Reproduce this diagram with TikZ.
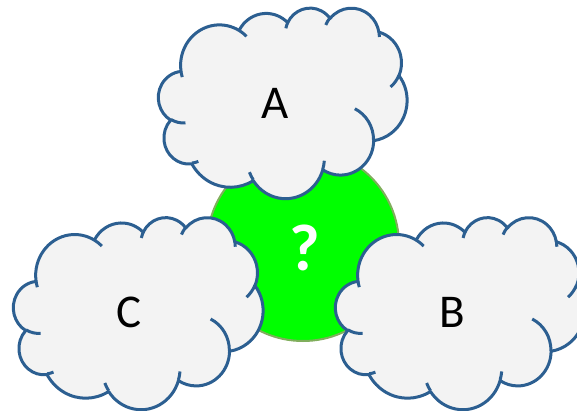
\documentclass[tikz,border=0pt]{standalone}
\usepackage{fontspec}
\setmainfont{Carlito}

\definecolor{cloudedge}{RGB}{44,95,145}
\definecolor{cloudfill}{RGB}{243,243,243}
\definecolor{discfill}{RGB}{0,255,0}
\definecolor{discedge}{RGB}{128,174,92}

\tikzset{
  cloudbody/.style={fill=cloudfill, draw=cloudedge, line width=3pt, line join=round},
  cloudfold/.style={draw=cloudedge, line width=3pt},
  disc/.style={fill=discfill, draw=discedge, line width=2pt},
  cloudlabel/.style={inner sep=0pt, font=\fontsize{47}{56}\selectfont},
  disclabel/.style={inner sep=0pt, text=white, font=\fontsize{66}{79}\selectfont\bfseries},
}

% Cloud outline in a 43.2 x 43.2 frame. Each bump is an elliptic arc given by
% its radii and by the directions in which it starts and sweeps; the directions
% are turned into ellipse parameters and the arc is appended to \cloudbuf.
\newcommand\cloudarc[4]{%
  \pgfmathsetmacro\cloudta{atan2(#1*sin(#3),#2*cos(#3))}%
  \pgfmathsetmacro\cloudtb{atan2(#1*sin(#3+#4),#2*cos(#3+#4))}%
  \pgfmathsetmacro\cloudtd{\cloudtb-\cloudta}%
  \pgfmathsetmacro\cloudtd{\cloudtd<0 ? \cloudtd+360 : \cloudtd}%
  \xdef\cloudbuf{\cloudbuf arc[start angle=\cloudta,delta angle=\cloudtd,x radius=#1,y radius=#2]}%
}
\newcommand\cloudat[2]{\xdef\cloudbuf{\cloudbuf (#1,#2)}}

% \drawcloud{left}{top}{width}{height}
\newcommand\drawcloud[4]{%
  \pgfmathsetmacro\cloudux{#3/43.2}%
  \pgfmathsetmacro\clouduy{#4/43.2}%
  \begin{scope}[shift={(#1,#2)}]
  \begin{scope}[x=\cloudux pt, y=-\clouduy pt]
    % filled outline
    \gdef\cloudbuf{}%
    \cloudat{3.9}{14.37}%
    \cloudarc{6.753}{9.190}{-190.4875}{123.7805}%
    \cloudarc{5.333}{7.267}{-144.1024}{89.9452}%
    \cloudarc{4.365}{5.945}{-145.8079}{99.7230}%
    \cloudarc{4.857}{6.595}{-130.9861}{117.2417}%
    \cloudarc{5.333}{7.273}{-78.7089}{109.0269}%
    \cloudarc{6.775}{9.220}{-46.2673}{130.2690}%
    \cloudarc{5.785}{7.867}{0.6250}{114.0333}%
    \cloudarc{6.752}{9.215}{22.4516}{115.1726}%
    \cloudarc{7.720}{10.543}{66.2426}{75.7110}%
    \cloudarc{4.360}{5.918}{-274.9421}{146.7356}%
    \cloudarc{4.345}{5.945}{-246.8285}{152.5189}%
    \edef\cloudtmp{\noexpand\path[cloudbody] \cloudbuf -- cycle;}\cloudtmp
    % inner folds between the bumps
    \gdef\cloudbuf{}%
    \cloudat{4.693}{26.177}\cloudarc{4.345}{5.945}{86.7420}{26.4295}%
    \cloudat{6.928}{34.899}\cloudarc{4.360}{5.918}{73.6105}{11.4475}%
    \cloudat{16.478}{39.090}\cloudarc{6.752}{9.215}{137.6242}{14.0811}%
    \cloudat{28.827}{34.751}\cloudarc{6.752}{9.215}{6.4533}{15.9984}%
    \cloudat{34.129}{22.954}\cloudarc{5.785}{7.867}{-70.2924}{70.9174}%
    \cloudat{41.798}{15.354}\cloudarc{5.333}{7.273}{30.3180}{27.7515}%
    \cloudat{38.324}{5.426}\cloudarc{4.857}{6.595}{-13.7443}{14.8589}%
    \cloudat{29.078}{3.952}\cloudarc{4.857}{6.595}{-149.1815}{18.1954}%
    \cloudat{22.141}{4.720}\cloudarc{4.365}{5.945}{-163.4943}{17.6864}%
    \cloudat{14.000}{5.192}\cloudarc{6.753}{9.190}{-66.7070}{12.3194}%
    \cloudat{4.127}{15.789}\cloudarc{6.753}{9.190}{157.6544}{11.8582}%
    \edef\cloudtmp{\noexpand\path[cloudfold] \cloudbuf;}\cloudtmp
  \end{scope}
  \end{scope}}

\begin{document}
\begin{tikzpicture}[x=1pt, y=-1pt]
  \clip (0,0) rectangle (577,411);
  \draw[disc] (303,245) circle[radius=96];
  \drawcloud{158.5}{7.5}{248.5}{190.5}
  \drawcloud{13.5}{217}{249.5}{192}
  \drawcloud{335.5}{217}{249}{192}
  \node[disclabel] (q) at (305,248) {?};
  \node[cloudlabel] (a) at (275,103) {A};
  \node[cloudlabel] (c) at (129,312) {C};
  \node[cloudlabel] (b) at (452,312) {B};
\end{tikzpicture}
\end{document}
